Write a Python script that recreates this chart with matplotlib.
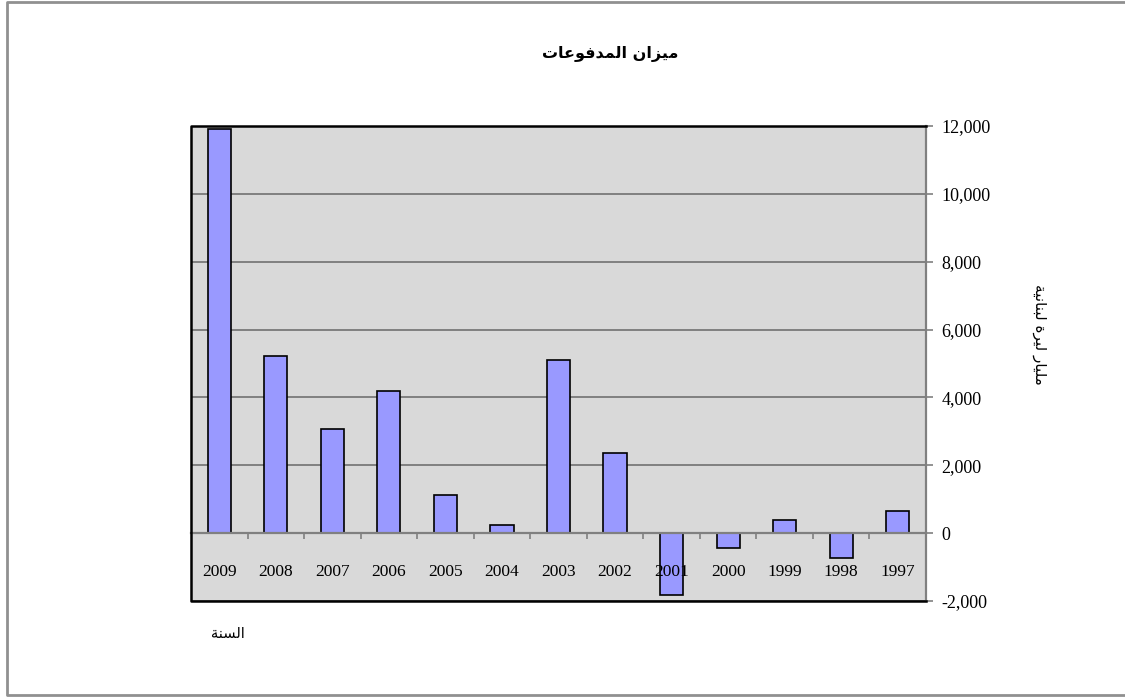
import matplotlib
matplotlib.use('Agg')
import matplotlib.pyplot as plt
from matplotlib.ticker import FuncFormatter, FixedLocator

years = ['2009', '2008', '2007', '2006', '2005', '2004', '2003',
         '2002', '2001', '2000', '1999', '1998', '1997']
balance = [11900, 5230, 3080, 4200, 1130, 250, 5090,
           2350, -1810, -450, 400, -740, 640]
y_ticks = [-2000, 0, 2000, 4000, 6000, 8000, 10000, 12000]

title = 'ميزان المدفوعات'
x_label = 'السنة'
y_label = 'مليار ليرة لبنانية'

# isolated, final, initial, medial presentation forms
FORMS = {
    'ا': ('\uFE8D', '\uFE8E', None, None),
    'ب': ('\uFE8F', '\uFE90', '\uFE91', '\uFE92'),
    'ة': ('\uFE93', '\uFE94', None, None),
    'ت': ('\uFE95', '\uFE96', '\uFE97', '\uFE98'),
    'د': ('\uFEA9', '\uFEAA', None, None),
    'ر': ('\uFEAD', '\uFEAE', None, None),
    'ز': ('\uFEAF', '\uFEB0', None, None),
    'س': ('\uFEB1', '\uFEB2', '\uFEB3', '\uFEB4'),
    'ع': ('\uFEC9', '\uFECA', '\uFECB', '\uFECC'),
    'ف': ('\uFED1', '\uFED2', '\uFED3', '\uFED4'),
    'ل': ('\uFEDD', '\uFEDE', '\uFEDF', '\uFEE0'),
    'م': ('\uFEE1', '\uFEE2', '\uFEE3', '\uFEE4'),
    'ن': ('\uFEE5', '\uFEE6', '\uFEE7', '\uFEE8'),
    'و': ('\uFEED', '\uFEEE', None, None),
    'ي': ('\uFEF1', '\uFEF2', '\uFEF3', '\uFEF4'),
}


def shape(text):
    # matplotlib has no arabic shaping, so pick the joined forms by hand
    out = []
    for i, ch in enumerate(text):
        if ch not in FORMS:
            out.append(ch)
            continue
        prev = text[i - 1] if i > 0 else ''
        nxt = text[i + 1] if i < len(text) - 1 else ''
        jp = prev in FORMS and FORMS[prev][2] is not None
        jn = FORMS[ch][2] is not None and nxt in FORMS
        if jp and jn:
            out.append(FORMS[ch][3])
        elif jp:
            out.append(FORMS[ch][1])
        elif jn:
            out.append(FORMS[ch][2])
        else:
            out.append(FORMS[ch][0])
    return ''.join(reversed(out))


grey = '#808080'
serif = 'Liberation Serif'

fig = plt.figure(figsize=(11.25, 6.98), dpi=100)
ax = fig.add_axes([191 / 1125, 1 - 601 / 698, 735 / 1125, 475 / 698])
ax.set_facecolor('#D9D9D9')

x = list(range(len(years)))
ax.bar(x, balance, width=0.41, color='#9999FF', edgecolor='black', linewidth=1.2, zorder=3)

ax.set_xlim(-0.5, len(years) - 0.5)
ax.set_ylim(-2000, 12000)
ax.yaxis.set_major_locator(FixedLocator(y_ticks))
ax.yaxis.set_major_formatter(FuncFormatter(lambda v, p: f'{int(v):,}'))
ax.yaxis.tick_right()
ax.grid(axis='y', color=grey, linewidth=1.4)
ax.tick_params(axis='y', direction='out', length=5, width=1.2, color=grey,
               labelsize=13, pad=6)
for lab in ax.get_yticklabels():
    lab.set_fontfamily(serif)
# grid under the bars, year labels over them
ax.yaxis.set_zorder(1)
ax.xaxis.set_zorder(4)

# category axis sits on zero
ax.spines['bottom'].set_position(('data', 0))
ax.spines['bottom'].set_color(grey)
ax.spines['bottom'].set_linewidth(1.6)
ax.spines['bottom'].set_zorder(4)
ax.spines['right'].set_color(grey)
ax.spines['right'].set_linewidth(1.6)
ax.spines['top'].set_visible(False)
ax.spines['left'].set_visible(False)
ax.set_xticks(x)
ax.set_xticklabels(years, fontfamily=serif, fontsize=12.5)
ax.set_xticks([i + 0.5 for i in x[:-1]], minor=True)
ax.tick_params(axis='x', which='major', length=0, pad=22)
ax.tick_params(axis='x', which='minor', direction='out', length=4, width=1.2, color=grey)

# dark frame on top, left, bottom
ax.plot([1, 0, 0, 1], [1, 1, 0, 0], transform=ax.transAxes, color='black',
        linewidth=1.8, clip_on=False, zorder=5)

fig.text(610 / 1125, 1 - 54 / 698, shape(title), ha='center', va='center',
         fontsize=11.5, fontweight='bold', family=['DejaVu Sans'])
fig.text(228 / 1125, 1 - 633 / 698, shape(x_label), ha='center', va='center',
         fontsize=10.5, family=['DejaVu Sans'])
fig.text(1040 / 1125, 1 - 334 / 698, shape(y_label), ha='center', va='center',
         fontsize=11, rotation=270, family=['DejaVu Sans'])

# outer chart border
fig.add_artist(plt.Line2D([1.2, 7 / 1125, 7 / 1125, 1.2],
                          [1 - 1.5 / 698, 1 - 1.5 / 698, 1 - 695 / 698, 1 - 695 / 698],
                          transform=fig.transFigure, color='#909090', linewidth=2))

fig.savefig('out.png', dpi=100)
